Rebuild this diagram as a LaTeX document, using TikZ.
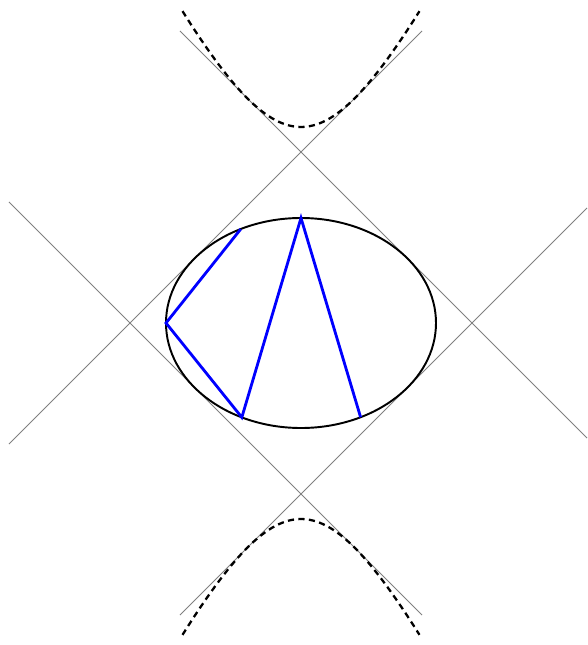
\documentclass[tikz,border=0pt]{standalone}
\usepackage{xcolor}
\usepackage{tikz}
\tikzset{
  tangent/.style={gray, line width=0.5pt},
  caustic/.style={dash pattern=on 3.5pt off 2.5pt, line width=1.3pt, black},
  orbit/.style={line width=1.6pt, blue, line join=miter},
  rim/.style={line width=1.1pt, black}
}

\begin{document}
\begin{tikzpicture}
  \useasboundingbox (-6.02,-6.44) rectangle (5.72,6.46);

  % Tangent lines (a^2 + b^2 = 3.42^2)
  \draw[tangent] (-2.42,5.84) -- (5.72,-2.30);
  \draw[tangent] (2.42,5.84) -- (-5.84,-2.42);
  \draw[tangent] (-5.84,2.42) -- (2.42,-5.84);
  \draw[tangent] (5.72,2.30) -- (-2.42,-5.84);

  % Hyperbola branches
  \draw[caustic] plot[domain=-1.04:1.04, samples=60, smooth]
    ({1.915*sinh(\x)},{3.92*cosh(\x)});
  \draw[caustic] plot[domain=-1.04:1.04, samples=60, smooth]
    ({1.915*sinh(\x)},{-3.92*cosh(\x)});

  % Ellipse
  \draw[rim] (0,0) ellipse (2.7 and 2.1);

  % Billiard path
  \draw[orbit] (116.5:2.7 and 2.1) -- (180:2.7 and 2.1) -- (244:2.7 and 2.1)
    -- (90:2.7 and 2.1) -- (296.2:2.7 and 2.1);
\end{tikzpicture}
\end{document}
